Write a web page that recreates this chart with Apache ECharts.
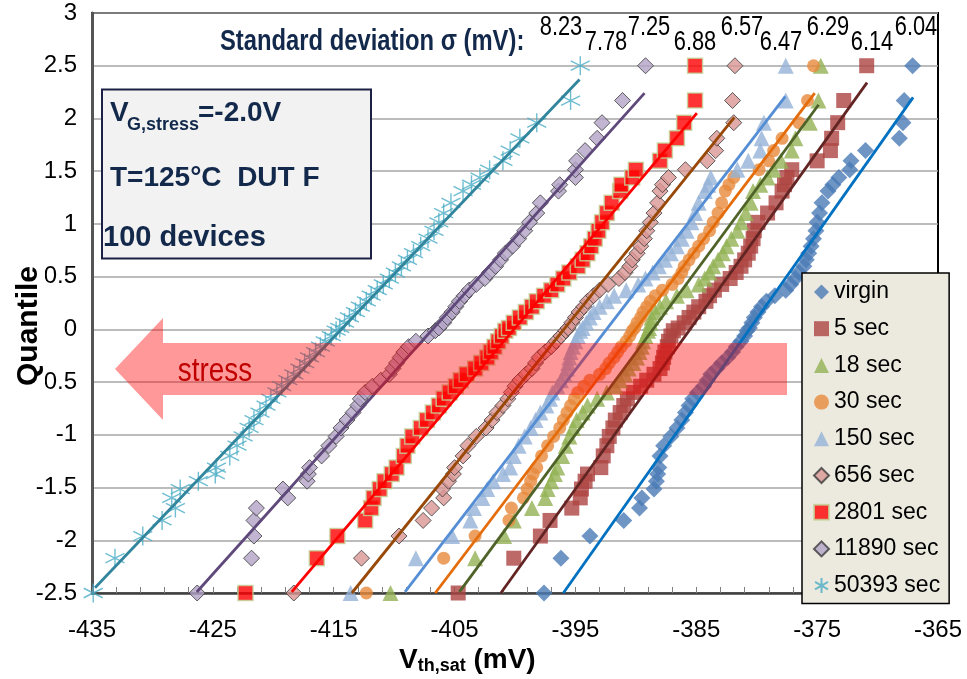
<!DOCTYPE html>
<html>
<head>
<meta charset="utf-8">
<script src="https://cdn.jsdelivr.net/npm/echarts@6/dist/echarts.min.js"></script>
<style>
  html, body { margin: 0; padding: 0; background: #fff; }
  #chart { width: 967px; height: 679px; }
</style>
</head>
<body>
<div id="chart"></div>
<script>
// normal quantile of each plotted device rank (shared by all series)
const quantiles = [
  -2.5, -2.17, -1.96, -1.812, -1.695, -1.598, -1.514, -1.44, -1.372, -1.311,
  -1.2, -1.103, -1.015, -0.935, -0.86, -0.789, -0.722, -0.659, -0.598, -0.539,
  -0.482, -0.426, -0.372, -0.319, -0.266, -0.215, -0.164, -0.113, -0.063, -0.013,
  0.013, 0.063, 0.113, 0.164, 0.215, 0.266, 0.319, 0.372, 0.426, 0.482,
  0.539, 0.598, 0.659, 0.722, 0.789, 0.86, 0.935, 1.015, 1.103, 1.2,
  1.311, 1.372, 1.44, 1.514, 1.598, 1.695, 1.812, 1.96, 2.17, 2.5
]

const seriesNames = ['virgin', '5 sec', '18 sec', '30 sec', '150 sec', '656 sec', '2801 sec', '11890 sec', '50393 sec']

// Vth,sat (mV) read per rank
const vthVirgin = [
  -397.6, -396.2, -393.8, -391.0, -389.7, -389.5, -388.5, -388.3, -388.2, -388.1,
  -388.0, -387.7, -387.1, -386.6, -386.2, -385.9, -385.6, -385.3, -384.9, -384.4,
  -384.1, -383.8, -383.3, -382.9, -382.4, -382.0, -381.7, -381.3, -381.0, -380.8,
  -380.6, -380.4, -380.2, -379.9, -379.6, -379.2, -378.5, -377.6, -377.2, -376.8,
  -376.5, -376.1, -375.9, -375.7, -375.5, -375.3, -375.1, -375.0, -374.8, -374.6,
  -374.1, -373.7, -373.2, -372.3, -372.2, -371.0, -368.2, -367.9, -367.8, -367.1
]
const vth5s = [
  -404.7, -400.1, -397.9, -397.1, -395.3, -394.6, -394.5, -394.2, -394.0, -392.9,
  -392.7, -392.4, -392.2, -391.9, -391.7, -391.3, -391.0, -390.7, -390.2, -389.6,
  -389.1, -388.5, -388.0, -387.8, -387.7, -387.6, -387.4, -387.3, -387.1, -386.9,
  -386.5, -386.0, -385.6, -385.2, -384.8, -384.2, -383.9, -383.5, -382.9, -382.2,
  -381.7, -381.3, -381.0, -380.7, -380.5, -380.3, -380.2, -379.9, -379.1, -378.4,
  -377.9, -377.7, -377.5, -377.1, -375.0, -373.9, -373.8, -373.3, -372.8, -370.9
]
const vth18s = [
  -410.3, -403.3, -400.9, -400.1, -398.6, -397.5, -397.3, -397.0, -396.7, -396.5,
  -396.1, -395.8, -395.5, -395.2, -394.9, -394.4, -394.0, -393.2, -392.4, -391.7,
  -391.3, -390.9, -390.6, -390.2, -389.9, -389.7, -389.5, -389.4, -389.2, -389.0,
  -388.9, -388.8, -388.7, -388.4, -388.0, -387.5, -386.6, -385.8, -384.8, -384.3,
  -383.9, -383.6, -383.2, -382.8, -382.5, -382.1, -381.6, -381.3, -380.9, -380.5,
  -380.3, -379.7, -379.1, -378.6, -378.0, -377.1, -376.8, -375.6, -374.9, -374.7
]
const vth30s = [
  -412.3, -405.9, -403.3, -400.5, -400.3, -399.3, -399.0, -398.7, -398.5, -398.2,
  -397.8, -397.3, -396.8, -396.3, -396.0, -395.7, -395.4, -395.1, -394.8, -394.3,
  -393.8, -393.0, -392.5, -392.2, -391.8, -391.5, -391.2, -390.8, -390.5, -390.3,
  -390.1, -389.9, -389.6, -389.4, -389.1, -388.8, -388.4, -387.8, -387.0, -386.5,
  -386.2, -386.0, -385.6, -385.2, -384.8, -384.4, -383.9, -383.6, -383.2, -382.9,
  -382.6, -382.3, -381.9, -379.8, -379.0, -378.6, -377.9, -376.5, -375.8, -375.3
]
const vth150s = [
  -413.6, -408.2, -405.2, -403.7, -403.4, -402.7, -402.3, -401.8, -401.0, -400.4,
  -400.1, -399.7, -399.2, -398.7, -398.3, -397.9, -397.4, -397.1, -396.9, -396.5,
  -396.2, -395.9, -395.7, -395.6, -395.5, -395.4, -395.2, -395.0, -394.8, -394.6,
  -394.4, -394.1, -393.8, -393.5, -393.0, -392.4, -391.8, -390.8, -389.8, -389.2,
  -388.6, -388.1, -387.6, -387.1, -386.6, -386.2, -385.8, -385.4, -385.1, -384.8,
  -384.3, -384.0, -383.8, -381.6, -380.7, -379.7, -379.6, -379.4, -377.6, -377.6
]
const vth656s = [
  -418.3, -412.7, -409.6, -407.6, -406.9, -405.9, -406.0, -405.5, -405.1, -405.0,
  -404.3, -403.9, -403.2, -402.4, -401.9, -401.5, -401.0, -400.6, -400.3, -400.0,
  -399.6, -399.1, -398.6, -398.3, -398.0, -397.5, -397.0, -396.6, -396.2, -395.8,
  -395.6, -395.3, -395.0, -394.7, -394.3, -394.0, -393.5, -393.0, -392.3, -391.4,
  -390.9, -390.5, -390.3, -389.9, -389.6, -389.3, -389.1, -388.8, -388.5, -388.2,
  -388.0, -387.8, -387.3, -385.9, -384.1, -383.4, -383.3, -381.9, -382.0, -381.8
]
const vth2801s = [
  -422.3, -416.4, -414.7, -412.4, -411.9, -411.7, -411.2, -410.8, -410.2, -409.8,
  -409.2, -408.9, -408.5, -407.8, -407.3, -406.8, -406.3, -405.9, -405.4, -404.9,
  -404.5, -404.0, -403.3, -402.8, -402.3, -402.0, -401.7, -401.4, -401.1, -400.8,
  -400.5, -400.1, -399.6, -399.1, -398.6, -398.2, -397.6, -397.0, -396.5, -396.0,
  -395.5, -394.8, -394.4, -394.0, -393.7, -393.4, -393.1, -392.8, -392.4, -392.0,
  -391.3, -391.2, -390.3, -390.0, -388.0, -387.6, -386.6, -386.0, -385.1, -385.1
]
const vth11890s = [
  -426.3, -421.8, -421.6, -421.6, -421.4, -418.8, -419.2, -417.2, -417.1, -417.0,
  -416.0, -415.4, -414.8, -414.4, -413.9, -413.4, -413.0, -412.8, -412.4, -411.8,
  -411.1, -410.4, -410.1, -409.8, -409.5, -409.2, -408.8, -408.2, -407.2, -406.6,
  -406.3, -405.9, -405.6, -405.2, -404.9, -404.6, -404.2, -403.8, -403.2, -402.5,
  -402.1, -401.6, -401.2, -400.8, -400.2, -399.7, -399.2, -398.8, -398.2, -397.9,
  -396.4, -396.3, -395.0, -395.0, -394.9, -394.2, -393.2, -392.8, -391.1, -389.2
]
const vth50393s = [
  -434.9, -433.1, -430.8, -429.2, -428.1, -428.4, -427.7, -426.2, -424.8, -424.7,
  -423.6, -423.0, -422.5, -422.0, -421.6, -421.1, -420.6, -420.2, -419.7, -419.3,
  -418.8, -418.3, -417.8, -417.4, -417.0, -416.5, -416.1, -415.7, -415.2, -414.8,
  -414.5, -414.1, -413.7, -413.2, -412.8, -412.3, -411.9, -411.4, -410.9, -410.4,
  -409.9, -409.4, -408.9, -408.4, -407.8, -407.2, -406.7, -406.3, -405.9, -405.3,
  -404.3, -403.6, -402.9, -402.1, -401.0, -400.4, -399.6, -398.2, -395.4, -394.6
]

// fitted lines: start / end points (mV, quantile)
const fitStartX = [-396.0, -401.17, -404.6, -406.6, -409.1, -413.5, -418.47, -426.33, -434.75]
const fitStartQ = [-2.5, -2.5, -2.49, -2.5, -2.49, -2.5, -2.49, -2.49, -2.45]
const fitEndX = [-367.06, -370.87, -374.88, -375.2, -377.63, -381.85, -384.95, -389.28, -394.66]
const fitEndQ = [2.2, 2.34, 2.13, 2.24, 2.21, 2.01, 2.05, 2.24, 2.37]

// standard deviations, in the order printed across the top (50393 sec ... virgin)
const sigmaLabels = ['8.23', '7.78', '7.25', '6.88', '6.57', '6.47', '6.29', '6.14', '6.04']

const xTicks = { min: -435, max: -365, interval: 10 }
const yTicks = { min: -2.5, max: 3, interval: 0.5 }

const vthAll = [vthVirgin, vth5s, vth18s, vth30s, vth150s, vth656s, vth2801s, vth11890s, vth50393s]

const FONT = 'Liberation Sans, Arial, sans-serif'
const NAVY = '#13294b'
const ASTERISK = 'path://M10 0L10 20M1.34 5L18.66 15M1.34 15L18.66 5'

const markerStyles = [
  { symbol: 'diamond', size: 17, itemStyle: { color: '#4a7ab5' } },
  { symbol: 'rect', size: 15, itemStyle: { color: '#ad4441' } },
  { symbol: 'triangle', size: 16, itemStyle: { color: '#92b154' } },
  { symbol: 'circle', size: 13, itemStyle: { color: '#e78a3c' } },
  { symbol: 'triangle', size: 16, itemStyle: { color: '#95b3d7' } },
  { symbol: 'diamond', size: 16, itemStyle: { color: '#d99694', borderColor: '#3a3a3a', borderWidth: 1 } },
  { symbol: 'rect', size: 15, itemStyle: { color: '#ff0000', borderColor: '#c3d69b', borderWidth: 1.5 } },
  { symbol: 'diamond', size: 16, itemStyle: { color: '#b3a2c7', borderColor: '#3a3a3a', borderWidth: 1 } },
  { symbol: ASTERISK, size: 19, itemStyle: { color: 'rgba(0,0,0,0)', borderColor: '#4bacc6', borderWidth: 1.4 } }
]
const lineColors = ['#0070c0', '#632523', '#4f6228', '#e46c0a', '#558ed5', '#984807', '#ff0000', '#5f497a', '#31859c']

const chart = echarts.init(document.getElementById('chart'))

const series = []
seriesNames.forEach((name, i) => {
  const m = markerStyles[i]
  series.push({
    name,
    type: 'scatter',
    symbol: m.symbol,
    symbolSize: m.size,
    itemStyle: m.itemStyle,
    clip: false,
    z: 2,
    data: vthAll[i].map((v, k) => [v, quantiles[k]])
  })
})
seriesNames.forEach((name, i) => {
  series.push({
    name: name + ' fit',
    type: 'line',
    symbol: 'none',
    silent: true,
    z: 3,
    lineStyle: { color: lineColors[i], width: 2.8 },
    data: [[fitStartX[i], fitStartQ[i]], [fitEndX[i], fitEndQ[i]]]
  })
})

// σ labels are staggered in two rows across the top
const sigmaX = [561, 606, 649, 695, 742, 781, 828, 872, 916]
const sigmaText = sigmaLabels.map((s, i) => ({
  type: 'text',
  x: sigmaX[i],
  y: i % 2 === 0 ? 27 : 42,
  scaleX: 0.78,
  z: 60,
  style: { text: s, font: 'normal 28px ' + FONT, fill: '#000', align: 'center', verticalAlign: 'middle' }
}))

const option = {
  animation: false,
  backgroundColor: '#fff',
  grid: {
    left: 92, right: 29, top: 13, bottom: 86,
    show: true, borderColor: '#000', borderWidth: 2
  },
  xAxis: {
    type: 'value',
    min: xTicks.min, max: xTicks.max, interval: xTicks.interval,
    axisLine: { onZero: false, lineStyle: { color: '#404040', width: 2.5 } },
    axisTick: { show: true, inside: true, length: 6, lineStyle: { color: '#808080', width: 1 } },
    minorTick: { show: true, splitNumber: 5, length: 6, lineStyle: { color: '#808080', width: 1 } },
    splitLine: { show: false },
    axisLabel: { fontSize: 24, color: '#000', fontFamily: FONT, margin: 25 }
  },
  yAxis: {
    type: 'value',
    min: yTicks.min, max: yTicks.max, interval: yTicks.interval,
    axisLine: { show: true, onZero: false, lineStyle: { color: '#555', width: 3 } },
    axisTick: { show: false },
    splitLine: { lineStyle: { color: '#a6a6a6', width: 1.5 } },
    axisLabel: { fontSize: 24, color: '#000', fontFamily: FONT, margin: 15 }
  },
  legend: {
    data: seriesNames,
    orient: 'vertical',
    left: 802, top: 273,
    padding: [7, 9, 6, 11],
    itemGap: 12.7,
    itemWidth: 15, itemHeight: 15,
    backgroundColor: '#eceadf',
    borderColor: '#000', borderWidth: 1.5,
    textStyle: { fontSize: 23, lineHeight: 24, color: '#000', fontFamily: FONT, padding: [0, 0, 0, 0] },
    z: 20
  },
  series,
  graphic: [
    // stress arrow
    {
      type: 'polygon', z: 50,
      shape: { points: [[115, 369], [163, 318], [163, 343], [787, 343], [787, 395], [163, 395], [163, 420]] },
      style: { fill: 'rgba(255,0,0,0.4)' }
    },
    {
      type: 'text', x: 215, y: 372, scaleX: 0.82, z: 51,
      style: { text: 'stress', font: 'normal 34px ' + FONT, fill: '#c00000', align: 'center', verticalAlign: 'middle' }
    },
    // condition box
    {
      type: 'rect', z: 50,
      shape: { x: 102, y: 89.5, width: 269, height: 169 },
      style: { fill: '#f2f2f2', stroke: '#1c2045', lineWidth: 2 }
    },
    {
      type: 'text', x: 110, y: 113, z: 51,
      style: { text: 'V', font: 'bold 28px ' + FONT, fill: NAVY, verticalAlign: 'middle' }
    },
    {
      type: 'text', x: 127, y: 125, z: 51,
      style: { text: 'G,stress', font: 'bold 18px ' + FONT, fill: NAVY, verticalAlign: 'middle' }
    },
    {
      type: 'text', x: 198, y: 113, z: 51,
      style: { text: '=-2.0V', font: 'bold 28px ' + FONT, fill: NAVY, verticalAlign: 'middle' }
    },
    {
      type: 'text', x: 110, y: 178, z: 51,
      style: { text: 'T=125°C  DUT F', font: 'bold 28px ' + FONT, fill: NAVY, verticalAlign: 'middle' }
    },
    {
      type: 'text', x: 103, y: 238, z: 51,
      style: { text: '100 devices', font: 'bold 29px ' + FONT, fill: NAVY, verticalAlign: 'middle' }
    },
    // σ header
    {
      type: 'text', x: 220, y: 42, scaleX: 0.82, z: 60,
      style: { text: 'Standard deviation σ (mV):', font: 'bold 29px ' + FONT, fill: NAVY, verticalAlign: 'middle' }
    },
    ...sigmaText,
    // axis titles
    {
      type: 'text', x: 29, y: 326, rotation: Math.PI / 2, z: 60,
      style: {
        text: 'Quantile', font: 'bold 30px ' + FONT, fill: '#000',
        align: 'center', verticalAlign: 'middle',
        backgroundColor: '#fff', padding: [0, 4, 2, 4]
      }
    },
    {
      type: 'text', x: 399, y: 660, z: 60,
      style: {
        text: '{v|V}{s|th,sat}{v| (mV)}',
        verticalAlign: 'middle',
        rich: {
          v: { font: 'bold 28px ' + FONT, fill: '#000', lineHeight: 30 },
          s: { font: 'bold 18px ' + FONT, fill: '#000', verticalAlign: 'bottom', lineHeight: 30, padding: [14, 0, 0, 0] }
        }
      }
    }
  ]
}

chart.setOption(option)
</script>
</body>
</html>
